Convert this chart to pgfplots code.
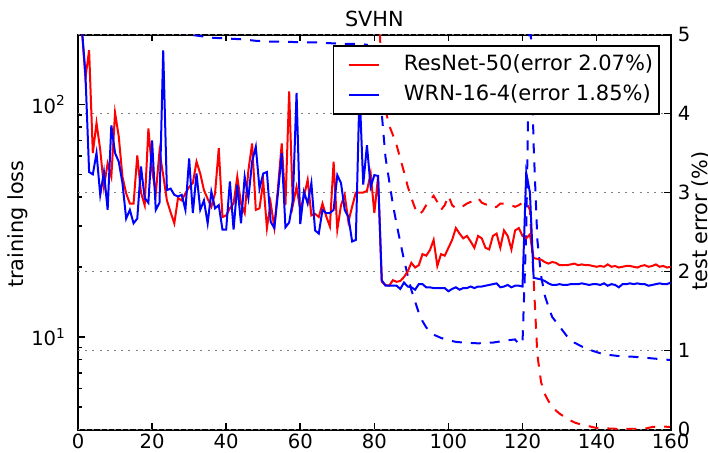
\documentclass[border=0pt]{standalone}
\usepackage{fontspec}
\setmainfont{DejaVu Sans}
\usepackage{pgfplots}
\pgfplotsset{compat=1.18}
\usepackage{pgfplotstable}
\usetikzlibrary{calc}

% test error (%) -- right axis
\pgfplotstableread{
x y
0 5.8
1 5.1
2 4.45
3 4.80
4 3.50
5 3.88
6 3.54
7 3.07
8 3.37
9 3.20
10 4.01
11 3.71
12 3.20
13 2.99
14 2.86
15 2.86
16 3.47
17 3.00
18 2.84
19 3.81
20 3.28
21 2.99
22 3.52
23 3.22
24 2.90
25 2.75
26 2.61
27 2.93
28 2.90
29 2.99
30 3.07
31 3.12
32 3.39
33 3.24
34 3.03
35 2.92
36 2.82
37 2.99
38 3.56
39 2.69
40 2.71
41 2.80
42 2.86
43 3.20
44 2.86
45 2.74
46 3.28
47 3.62
48 2.78
49 2.80
50 3.14
51 2.55
52 2.87
53 2.56
54 3.07
55 3.62
56 2.84
57 4.28
58 2.84
59 3.07
60 2.78
61 2.95
62 3.16
63 2.71
64 2.73
65 2.69
66 2.86
67 2.70
68 2.57
69 3.39
70 2.53
71 2.84
72 2.97
73 2.63
74 2.82
75 3.00
76 3.00
77 3.00
78 3.02
79 3.24
80 2.74
81 3.20
82 1.87
83 1.83
84 1.82
85 1.89
86 1.87
87 1.88
88 1.93
89 2.00
90 2.11
91 2.05
92 2.08
93 2.22
94 2.20
95 2.27
96 2.40
97 2.07
98 2.22
99 2.20
100 2.30
101 2.40
102 2.55
103 2.48
104 2.42
105 2.45
106 2.38
107 2.30
108 2.45
109 2.42
110 2.30
111 2.28
112 2.45
113 2.48
114 2.30
115 2.52
116 2.45
117 2.28
118 2.52
119 2.55
120 2.45
121 2.42
122 2.47
123 2.17
124 2.16
125 2.15
126 2.12
127 2.10
128 2.12
129 2.11
130 2.08
131 2.08
132 2.08
133 2.09
134 2.10
135 2.08
136 2.09
137 2.08
138 2.08
139 2.07
140 2.06
141 2.07
142 2.06
143 2.09
144 2.06
145 2.07
146 2.05
147 2.06
148 2.07
149 2.07
150 2.06
151 2.05
152 2.07
153 2.08
154 2.06
155 2.07
156 2.09
157 2.06
158 2.07
159 2.05
160 2.06
}\resnettest

\pgfplotstableread{
x y
0 6.0
1 5.1
2 4.51
3 3.26
4 3.23
5 3.50
6 2.97
7 3.26
8 2.78
9 3.85
10 3.50
11 3.39
12 3.12
13 2.67
14 2.78
15 2.61
16 2.67
17 3.33
18 2.93
19 2.87
20 3.66
21 2.78
22 2.87
23 4.80
24 3.03
25 3.05
26 2.97
27 2.95
28 2.97
29 2.78
30 3.43
31 2.74
32 3.24
33 2.78
34 2.90
35 2.61
36 3.01
37 2.80
38 2.84
39 2.53
40 2.53
41 3.14
42 2.53
43 3.10
44 2.61
45 3.20
46 2.93
47 3.39
48 3.58
49 3.05
50 3.24
51 3.26
52 2.63
53 2.55
54 3.00
55 3.50
56 2.56
57 2.62
58 2.90
59 4.26
60 2.60
61 3.01
62 2.86
63 3.12
64 2.52
65 2.48
66 2.78
67 2.74
68 2.74
69 2.78
70 3.22
71 3.12
72 2.78
73 2.69
74 2.38
75 2.40
76 4.30
77 3.10
78 3.60
79 3.07
80 3.22
81 3.21
82 1.89
83 1.82
84 1.82
85 1.82
86 1.82
87 1.78
88 1.86
89 1.81
90 1.80
91 1.77
92 1.84
93 1.84
94 1.80
95 1.80
96 1.79
97 1.79
98 1.79
99 1.79
100 1.75
101 1.78
102 1.80
103 1.77
104 1.79
105 1.79
106 1.81
107 1.79
108 1.81
109 1.81
110 1.82
111 1.83
112 1.84
113 1.85
114 1.80
115 1.81
116 1.83
117 1.80
118 1.82
119 1.82
120 1.81
121 3.25
122 3.00
123 1.92
124 1.91
125 1.90
126 1.88
127 1.85
128 1.83
129 1.83
130 1.84
131 1.83
132 1.83
133 1.84
134 1.84
135 1.84
136 1.85
137 1.84
138 1.83
139 1.84
140 1.84
141 1.83
142 1.85
143 1.82
144 1.84
145 1.83
146 1.80
147 1.84
148 1.84
149 1.85
150 1.84
151 1.85
152 1.84
153 1.84
154 1.82
155 1.83
156 1.84
157 1.85
158 1.84
159 1.84
160 1.86
}\wrntest

% training loss -- left (log) axis
\pgfplotstableread{
x y
81 296
82 135.3
83 95.1
84 81.3
85 74.0
86 66.9
87 58.6
88 51.3
89 44.5
90 39.6
91 35.8
92 33.6
93 34.7
94 36.9
95 38.7
96 40.5
97 38.1
98 35.2
99 36.9
100 40.5
101 36.9
102 35.8
103 35.8
104 36.6
105 37.5
106 38.1
107 39.0
108 39.6
109 37.8
110 37.2
111 36.9
112 36.0
113 36.3
114 37.5
115 37.5
116 37.2
117 36.9
118 36.3
119 36.9
120 37.8
121 38.1
122 35.2
123 17.7
124 8.41
125 6.40
126 5.69
127 5.30
128 5.02
129 4.83
130 4.68
132 4.46
134 4.29
136 4.19
138 4.13
140 4.06
145 4.03
150 4.03
153 4.03
155 4.10
157 4.13
160 4.10
}\resnetloss

\pgfplotstableread{
x y
0 450
1 400
5 300
10 260
15 235
20 220
25 208
30 200
33 196.9
36 193.8
40 192.3
44 190.8
48 187.9
52 186.4
56 186.4
60 185.0
64 185.0
68 183.5
72 182.1
76 182.1
78 180.7
80 146.2
81 115.7
82 91.5
83 59.5
84 47.0
85 37.2
86 30.6
87 25.6
88 21.5
89 18.4
90 15.9
91 14.2
92 12.7
93 11.7
94 11.0
95 10.55
96 10.23
98 9.91
100 9.68
102 9.53
104 9.46
108 9.39
112 9.46
116 9.68
118 9.76
119 9.31
120 9.46
121 28.3
121.5 91.5
122 296
123 66.9
124 26.2
125 18.4
126 15.1
127 13.5
128 12.2
130 11.1
132 10.07
134 9.46
136 9.10
138 8.82
140 8.61
142 8.41
144 8.35
146 8.28
150 8.22
155 8.09
160 7.96
}\wrnloss

\pgfplotsset{
  every axis/.append style={font=\fontsize{10.4}{12.5}\selectfont},
  ticklabel style={font=\fontsize{9.8}{11.5}\selectfont},
  /pgf/number format/assume math mode=true,
  major tick length=3.5pt,
  minor tick length=2pt,
  every tick/.style={black, line width=0.8pt},
  axis line style={line width=1pt},
  every axis title/.style={at={(0.5,1)}, anchor=base, yshift=3.9pt},
}

\begin{document}
\begin{tikzpicture}
\begin{semilogyaxis}[
  scale only axis, width=296.35pt, height=197.5pt,
  xmin=0, xmax=160, ymin=4, ymax=200,
  xtick={0,20,...,160},
  xtick pos=both, xticklabel pos=left,
  xticklabel style={yshift=1.3pt},
  ytick={10,100},
  yticklabels={10\textsuperscript{1},10\textsuperscript{2}},
  minor ytick={4,5,6,7,8,9,20,30,40,50,60,70,80,90,200},
  ytick pos=left,
  yticklabel style={xshift=-2.5pt},
  ylabel={training loss},
  ylabel style={at={(axis description cs:-0.1012,0.52)}, anchor=center},
  title={SVHN},
]
\coordinate (bl) at (rel axis cs:0,0);
\coordinate (tr) at (rel axis cs:1,1);
\coordinate (rlab) at (rel axis cs:1.0613,0.528);
\addplot[red, line width=1pt, dash pattern=on 5pt off 4.5pt, mark=none] table[x=x,y=y] {\resnetloss};
\addplot[blue, line width=1pt, dash pattern=on 5pt off 4.5pt, mark=none] table[x=x,y=y] {\wrnloss};
\end{semilogyaxis}
\begin{axis}[
  scale only axis, width=296.35pt, height=197.5pt,
  xmin=0, xmax=160, ymin=0, ymax=5,
  axis x line=none,
  axis y line*=right,
  ytick={0,1,...,5},
  ymajorgrids,
  grid style={gray, line width=0.9pt, dash pattern=on 1pt off 2.6pt},
  legend image code/.code={\path (0pt,0pt); \draw[#1] (4.35pt,0pt) -- (19.35pt,0pt);},
  legend style={at={(1,1)}, anchor=north east, xshift=-5.35pt, yshift=-5.25pt,
    draw=black, line width=0.8pt, fill=white,
    inner xsep=3pt, inner ysep=4.5pt, row sep=5pt, column sep=11.85pt,
    nodes={inner sep=0pt, text height=8pt, text depth=2pt},
    font=\fontsize{10.5}{12.5}\selectfont},
  legend cell align=left,
]
\addplot[red, line width=1pt, mark=none] table[x=x,y=y] {\resnettest};
\addlegendentry{ResNet-50(error 2.07\%)}
\addplot[blue, line width=1pt, mark=none] table[x=x,y=y] {\wrntest};
\addlegendentry{WRN-16-4(error 1.85\%)}
\end{axis}
\node[rotate=90, anchor=base, inner sep=0pt, font=\fontsize{10.4}{12.5}\selectfont] at (rlab) {test error (\%)};
\pgfresetboundingbox
\path[use as bounding box] ($(bl)+(-39pt,-11.25pt)$) rectangle ($(tr)+(18.65pt,17.25pt)$);
\end{tikzpicture}
\end{document}
